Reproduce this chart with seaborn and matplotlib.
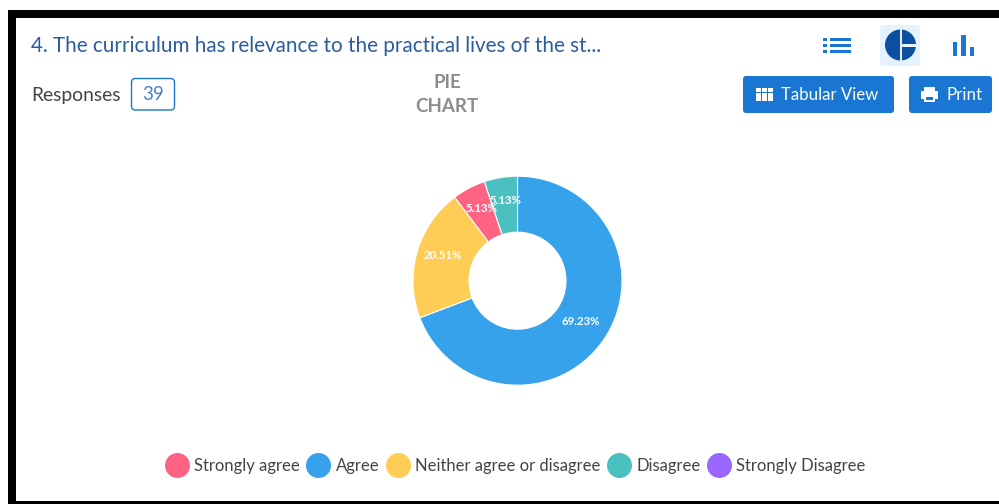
import matplotlib
matplotlib.use("Agg")
import matplotlib.pyplot as plt
import seaborn as sns
from matplotlib.lines import Line2D
from matplotlib.patches import Circle, FancyBboxPatch, Rectangle

# values (counts out of 39 responses)
slice_names = ["Agree", "Neither agree or disagree", "Strongly agree", "Disagree"]
slice_counts = [27, 8, 2, 2]
legend_names = ["Strongly agree", "Agree", "Neither agree or disagree", "Disagree", "Strongly Disagree"]
colors = {
    "Strongly agree": "#ff6384",
    "Agree": "#36a2eb",
    "Neither agree or disagree": "#ffcd56",
    "Disagree": "#4bc0c0",
    "Strongly Disagree": "#9966ff",
}
title = "4. The curriculum has relevance to the practical lives of the st..."
responses = "39"

BLUE = "#1976d2"
W, H = 999, 504

sns.set_theme(style="white")
plt.rcParams["font.family"] = ["Lato", "DejaVu Sans"]

fig = plt.figure(figsize=(W / 100, H / 100), dpi=100)

# page furniture, drawn in pixel coordinates
page = fig.add_axes([0, 0, 1, 1])
page.set_xlim(0, W)
page.set_ylim(H, 0)
page.axis("off")


def rect(x0, y0, x1, y1, color, ax=page):
    ax.add_patch(Rectangle((x0, y0), x1 - x0, y1 - y0, fc=color, ec="none"))


def button(x0, y0, x1, y1, fc, ec="none", lw=0, r=3):
    page.add_patch(FancyBboxPatch((x0 + r, y0 + r), x1 - x0 - 2 * r, y1 - y0 - 2 * r,
                                  boxstyle=f"round,pad={r},rounding_size={r}", fc=fc, ec=ec, lw=lw))


# black frame
rect(8, 10, W, 18, "black")
rect(8, 10, 16, H, "black")
rect(8, 501, W, H, "black")

page.text(31, 46.5, title, fontsize=14.88, color="#2b5c9e", va="center", ha="left")
page.text(31, 96, "Responses", fontsize=13.9, color="#444444", va="center", ha="left")
button(131.5, 78.5, 174.5, 110, "white", ec=BLUE, lw=1, r=4)
page.text(153, 95, responses, fontsize=13.5, color="#4a80cc", va="center", ha="center")
page.text(447, 83, "PIE", fontsize=13.5, color="#8c8c8c", va="center", ha="center", fontweight="bold")
page.text(447, 107, "CHART", fontsize=13.5, color="#8c8c8c", va="center", ha="center", fontweight="bold")

# list icon
for y in (39, 45, 51):
    rect(823, y - 1.5, 827, y + 1.5, BLUE)
    rect(830, y - 1.5, 851, y + 1.5, BLUE)

# pie icon
button(880, 25, 920, 66, "#e3f2fd", r=4)
page.add_patch(Circle((900.5, 45), 15.5, fc="#0b4ea2", ec="none"))
rect(899.5, 29, 901.5, 61, "#e3f2fd")
rect(901, 44, 917, 46.5, "#e3f2fd")

# bar icon
rect(952.5, 42, 956.5, 56, BLUE)
rect(961, 35, 965.5, 56, BLUE)
rect(970, 47, 974, 56, BLUE)

# buttons
button(743, 76, 894, 113, BLUE)
button(909, 76, 992, 113, BLUE)
for col in range(3):
    for row in range(3):
        rect(755.5 + col * 6, 88 + row * 4.7, 760.5 + col * 6, 92 + row * 4.7, "white")
page.text(781, 95, "Tabular View", fontsize=12.1, color="white", va="center", ha="left")
rect(924, 87, 935, 91, "white")
rect(921, 91, 938, 99, "white")
rect(924, 96, 935, 102, "white")
rect(926, 97, 933, 100, BLUE)
page.text(947, 95, "Print", fontsize=12.2, color="white", va="center", ha="left")

# donut
cx, cy, outer, inner = 517.5, 280.7, 104.5, 48.5
pie_ax = fig.add_axes([(cx - outer) / W, 1 - (cy + outer) / H, 2 * outer / W, 2 * outer / H])
_, _, pct_labels = pie_ax.pie(
    slice_counts,
    colors=[colors[n] for n in slice_names],
    startangle=90,
    counterclock=False,
    radius=1,
    autopct="%.2f%%",
    pctdistance=0.74,
    wedgeprops={"width": (outer - inner) / outer, "edgecolor": "white", "linewidth": 0.8},
    textprops={"color": "white", "fontsize": 8.2, "verticalalignment": "bottom", "fontweight": "bold"},
)
for t in pct_labels:
    x, y = t.get_position()
    t.set_position((x, y - 0.02))
pie_ax.set_xlim(-1, 1)
pie_ax.set_ylim(-1, 1)

# legend
handles = [Line2D([], [], ls="", marker="o", ms=18, mfc=colors[n], mec="none", label=n) for n in legend_names]
page.legend(
    handles=handles,
    loc="center",
    bbox_to_anchor=(515.5 / W, 1 - 466 / H),
    ncol=5,
    frameon=False,
    fontsize=11.95,
    labelcolor="#444444",
    handlelength=1.4,
    handletextpad=0.35,
    columnspacing=0.4,
)

fig.savefig("out.png", dpi=100, facecolor="white")
